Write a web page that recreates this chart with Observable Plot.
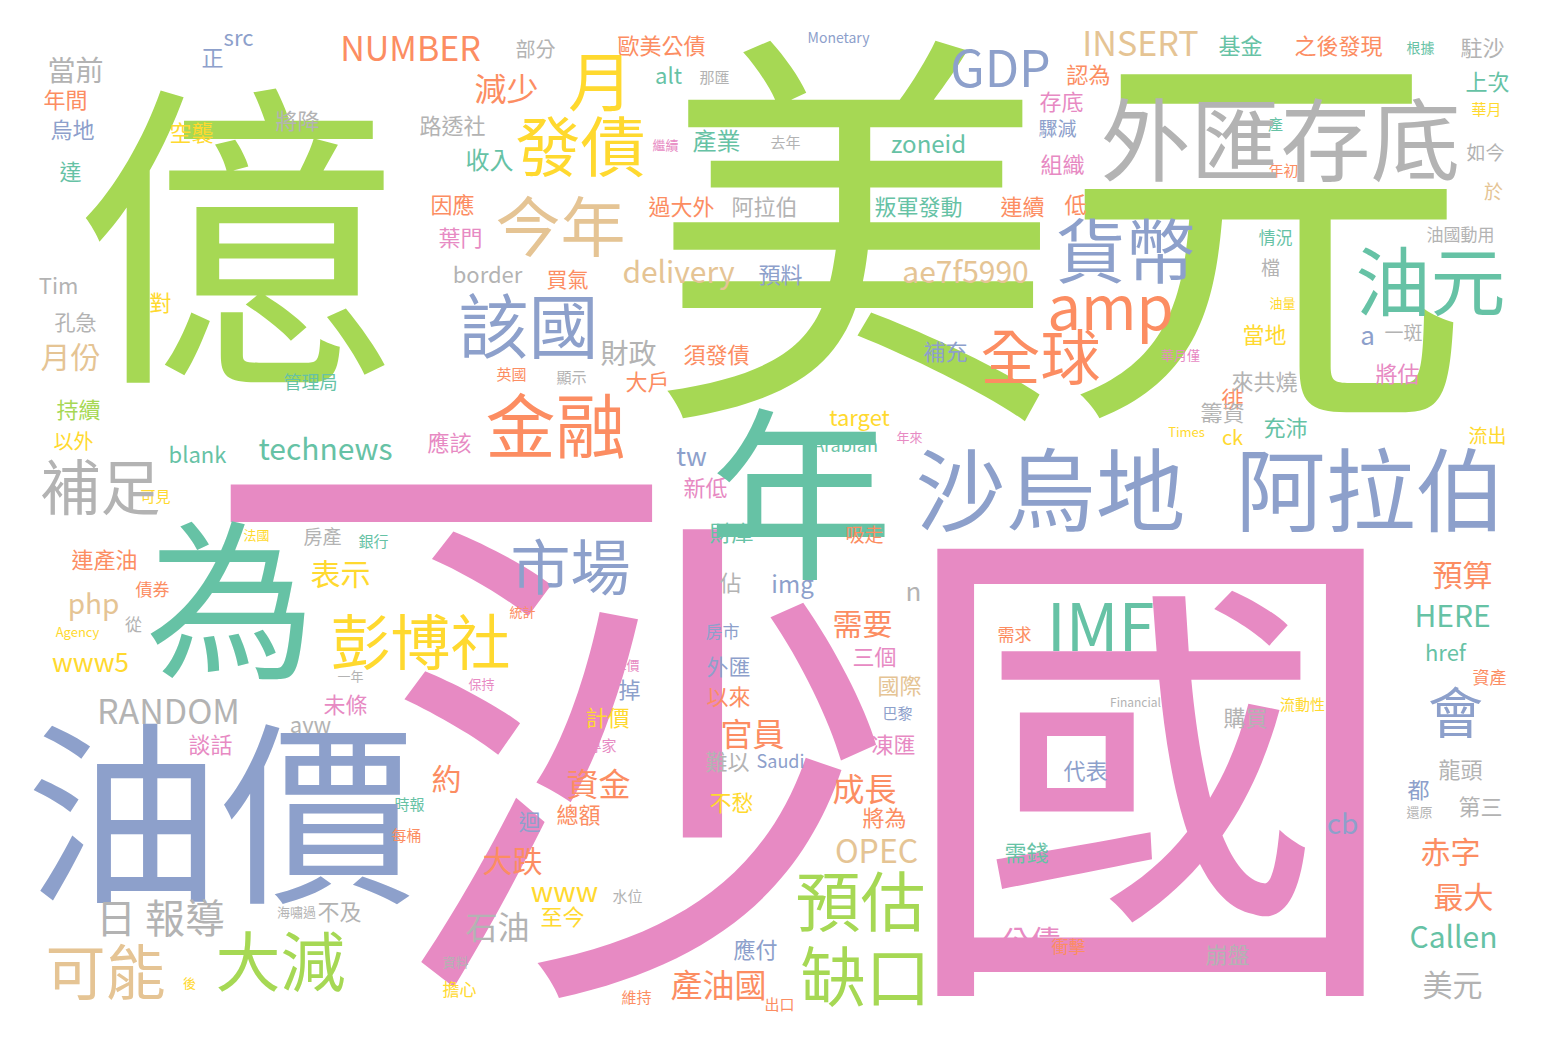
<!DOCTYPE html>
<html><head><meta charset="utf-8">
<script src="https://cdn.jsdelivr.net/npm/d3@7"></script>
<script src="https://cdn.jsdelivr.net/npm/@observablehq/plot@0.6"></script>
<style>body{margin:0;background:#fff}</style>
</head><body><div id="chart"></div>
<script>
// [word, x, y, size]
const greenWords=[["億",235,255,320],["美元",1060,255,410],["預估",860,905,65],["缺口",865,980,65],["大減",280,965,65],["持續",78,410,22]];
const pinkWords=[["沙國",895,790,510],["一",440,535,460],["公債",1030,942,30],["葉門",460,238,22],["應該",449,443,22],["新低",705,488,22],["將估",1397,374,22],["三個",874,657,22],["凍匯",893,745,22],["專家",601,746,15],["談話",210,745,22],["未條",345,705,22],["保持",481,684,13],["降價",626,665,13],["年來",909,437,13],["存底",1061,102,22],["組織",1062,165,22],["繼續",665,145,13],["華月僅",1180,355,13]];
const tealWords=[["年",800,505,185],["為",230,610,170],["油元",1430,285,75],["IMF",1100,630,65],["technews",325,450,30],["blank",197,455,22],["Callen",1453,938,30],["HERE",1452,617,30],["zoneid",928,145,24],["產業",716,142,24],["收入",489,161,24],["alt",668,76,22],["基金",1240,46,22],["根據",1420,48,14],["上次",1487,82,22],["叛軍發動",918,207,22],["管理局",310,383,18],["Arabian",845,446,18],["充沛",1285,428,22],["達",70,172,22],["財庫",731,533,22],["需錢",1026,853,22],["href",1445,653,22],["時報",409,805,15],["銀行",373,542,15],["情況",1275,238,17],["產",1275,125,15]];
const blueWords=[["油價",220,825,195],["沙烏地",1050,495,90],["阿拉伯",1370,495,90],["貨幣",1125,255,70],["該國",528,330,70],["市場",570,570,60],["GDP",1000,70,50],["會",1455,715,55],["cb",1342,825,28],["src",238,38,22],["Monetary",838,38,14],["預料",780,275,22],["補充",945,352,22],["tw",691,457,26],["a",1367,336,26],["烏地",72,130,22],["正",212,58,22],["img",792,585,24],["房市",722,632,17],["外匯",728,667,22],["掉",629,690,22],["巴黎",897,714,15],["Saudi",780,762,18],["迴",529,822,22],["應付",755,950,22],["代表",1085,771,22],["都",1418,790,22],["驟減",1057,129,19]];
const orangeWords=[["金融",555,430,70],["全球",1040,360,60],["amp",1110,310,60],["NUMBER",410,50,34],["減少",506,90,32],["產油國",718,986,32],["資金",598,785,32],["成長",864,790,32],["官員",752,735,32],["需要",862,625,30],["大跌",512,862,30],["約",446,780,30],["預算",1462,576,30],["赤字",1450,853,30],["最大",1463,898,30],["歐美公債",661,46,22],["之後發現",1338,46,22],["連續",1022,207,22],["低",1075,205,22],["過大外",681,207,22],["因應",452,205,22],["買氣",567,280,21],["須發債",716,355,22],["大戶",647,382,22],["英國",511,375,15],["徘",1232,399,22],["年間",65,100,22],["吸走",864,535,19],["以來",728,697,22],["將為",884,818,22],["總額",578,815,22],["需求",1014,635,17],["資產",1489,678,17],["衝擊",1068,947,17],["出口",779,1005,15],["維持",636,998,15],["每桶",406,836,15],["統計",522,612,13],["債券",152,590,17],["連產油",104,560,22],["年初",1283,171,15],["認為",1088,75,22]];
const yellowWords=[["發債",580,150,65],["月",600,85,65],["彭博社",420,645,60],["www5",90,663,26],["表示",340,575,30],["www",564,893,28],["對",160,303,22],["以外",73,442,20],["target",859,418,22],["當地",1264,335,22],["ck",1232,438,20],["Times",1186,432,13],["流出",1487,436,19],["空襲",191,133,22],["計價",607,718,22],["不愁",731,803,22],["至今",562,917,22],["流動性",1302,705,15],["擔心",459,990,17],["後",189,983,13],["Agency",77,632,13],["法國",256,535,13],["可見",155,497,15],["油量",1282,303,13],["華月",1486,110,15]];
const tanWords=[["今年",560,230,65],["可能",105,975,60],["INSERT",1140,45,34],["delivery",678,273,30],["ae7f5990",965,273,30],["php",93,605,28],["月份",70,358,30],["OPEC",876,852,32],["國際",899,686,22],["於",1493,192,19]];
const grayWords=[["外匯存底",1280,145,90],["補足",100,490,60],["日 報導",160,920,40],["RANDOM",168,713,34],["當前",75,72,28],["財政",628,355,28],["石油",497,928,32],["美元",1452,986,30],["路透社",452,126,22],["部分",535,50,20],["駐沙",1482,48,22],["阿拉伯",764,207,22],["border",487,275,22],["Tim",58,286,22],["孔急",75,323,21],["顯示",571,378,15],["一斑",1403,333,19],["來共燒",1264,382,22],["籌資",1222,413,22],["將降",297,121,22],["佔",730,583,22],["n",913,592,26],["難以",727,762,22],["水位",627,897,15],["購買",1245,718,22],["Financial",1135,703,12],["龍頭",1460,770,22],["第三",1480,807,22],["還原",1419,812,13],["崩盤",1227,955,22],["資料",455,962,13],["不及",339,912,22],["海嘯過",296,912,13],["avw",310,725,22],["一年",350,676,13],["從",133,625,17],["房產",322,537,19],["檔",1270,268,19],["油國動用",1460,235,17],["如今",1485,153,19],["那匯",714,78,15],["去年",785,143,15]];

const groups=[[greenWords,"#a6d854"],[pinkWords,"#e78ac3"],[tealWords,"#66c2a5"],[blueWords,"#8da0cb"],[orangeWords,"#fc8d62"],[yellowWords,"#ffd92f"],[tanWords,"#e5c494"],[grayWords,"#b3b3b3"]];
const data=groups.flatMap(([arr,c])=>arr.map(([w,x,y,s])=>({w,x,y,s,c})));

const chart=Plot.plot({
  width:1548,height:1052,margin:0,
  x:{domain:[0,1548],axis:null},
  y:{domain:[0,1052],reverse:true,axis:null},
  marks:[Plot.text(data,{x:"x",y:"y",text:"w",fill:d=>d.c,fontSize:d=>d.s,
    fontFamily:"Noto Sans CJK TC, Noto Sans, sans-serif",textAnchor:"middle",lineAnchor:"middle"})]
});
document.getElementById("chart").appendChild(chart);
</script></body></html>
